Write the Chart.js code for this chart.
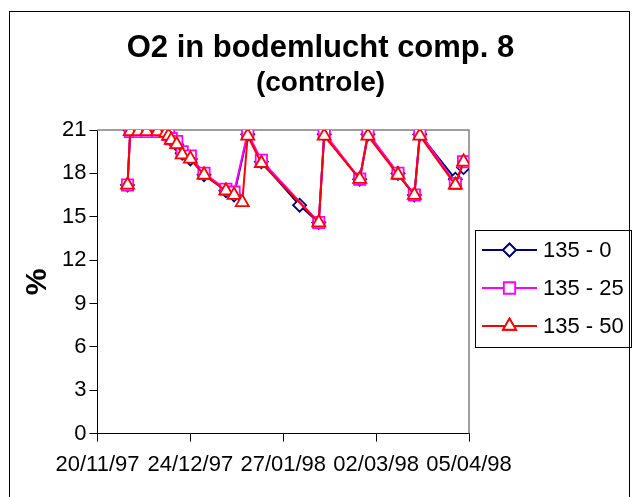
<!DOCTYPE html>
<html>
<head>
<meta charset="utf-8">
<script src="https://cdn.jsdelivr.net/npm/chart.js@4.4.0/dist/chart.umd.min.js"></script>
<style>
  html, body { margin: 0; padding: 0; background: #fff; }
  #wrap { position: relative; width: 637px; height: 497px; overflow: hidden; }
  #frame { position: absolute; left: 9px; top: 11px; width: 619px; height: 500px; border: 1px solid #000; }
  canvas { position: absolute; left: 0; top: 0; }
</style>
</head>
<body>
<div id="wrap">
  <div id="frame"></div>
  <canvas id="chart" width="637" height="497"></canvas>
</div>
<script>
// measurement dates (dd/mm/yy)
const dates = [
  '01/12/97', '02/12/97', '05/12/97', '08/12/97', '12/12/97', '15/12/97',
  '16/12/97', '17/12/97', '19/12/97', '21/12/97', '24/12/97', '29/12/97',
  '06/01/98', '09/01/98', '12/01/98', '14/01/98', '19/01/98', '02/02/98',
  '09/02/98', '11/02/98', '24/02/98', '27/02/98', '10/03/98', '16/03/98',
  '18/03/98', '31/03/98', '03/04/98'
];

// O2 (%) per depth, null = not measured
const o2_0 = [
  17.2, 21.0, 21.0, 21.0, 21.0, 20.9,
  20.6, 20.3, 20.0, 19.4, 19.0, 17.9,
  16.8, 16.5, null, 20.7, 18.8, 15.8,
  14.6, 20.7, 17.6, 20.7, 18.0, 16.5,
  20.7, 17.6, 18.4
];
const o2_25 = [
  17.2, 20.9, 20.9, 20.9, 20.9, 20.9,
  20.7, 20.4, 20.2, 19.5, 19.2, 18.0,
  16.9, 16.7, null, 20.8, 18.9, null,
  14.6, 20.8, 17.6, 20.8, 18.0, 16.5,
  20.8, 17.3, 18.8
];
const o2_50 = [
  17.2, 20.9, 20.9, 20.9, 20.9, 20.8,
  20.6, 20.3, 20.0, 19.3, 19.0, 17.9,
  16.8, 16.5, 16.0, 20.6, 18.7, null,
  14.6, 20.6, 17.6, 20.6, 17.9, 16.5,
  20.6, 17.2, 18.8
];

const seriesNames = ['135 - 0', '135 - 25', '135 - 50'];
const xTickLabels = ['20/11/97', '24/12/97', '27/01/98', '02/03/98', '05/04/98'];
const yTicks = [0, 3, 6, 9, 12, 15, 18, 21];

const FONT = "'Liberation Sans', Arial, sans-serif";

// days since first x tick
function dayOf(s) {
  const [d, m, y] = s.split('/').map(Number);
  const [d0, m0, y0] = xTickLabels[0].split('/').map(Number);
  return (Date.UTC(1900 + y, m - 1, d) - Date.UTC(1900 + y0, m0 - 1, d0)) / 86400000;
}
const xDays = dates.map(dayOf);
const toPoints = vals => vals.map((v, i) => ({ x: xDays[i], y: v }));

const styles = [
  { color: '#000080', point: 'rectRot', radius: 6.5 },
  { color: '#FF00FF', point: 'rect', radius: 8 },
  { color: '#FF0000', point: 'triangle', radius: 7.5 }
];

function drawMarker(ctx, st, x, y) {
  ctx.save();
  ctx.fillStyle = '#fff';
  ctx.strokeStyle = st.color;
  ctx.lineWidth = 1.8;
  Chart.helpers.drawPoint(ctx, { pointStyle: st.point, radius: st.radius, rotation: 0, borderWidth: 1.8 }, x, y);
  ctx.fill();
  ctx.stroke();
  ctx.restore();
}

const excelDecor = {
  id: 'excelDecor',
  beforeDatasetsDraw(chart) {
    const { ctx, chartArea: a } = chart;
    ctx.save();
    ctx.strokeStyle = '#808080';
    ctx.lineWidth = 1.5;
    ctx.beginPath();
    ctx.moveTo(a.left, a.top);
    ctx.lineTo(a.right, a.top);
    ctx.lineTo(a.right, a.bottom);
    ctx.stroke();
    ctx.restore();
  },
  afterDraw(chart) {
    const { ctx, chartArea: a } = chart;
    const cx = chart.width / 2 + 2;
    ctx.save();
    ctx.fillStyle = '#000';
    ctx.textAlign = 'center';
    ctx.textBaseline = 'middle';
    ctx.font = 'bold 31px ' + FONT;
    ctx.fillText('O2 in bodemlucht comp. 8', cx, 48);
    ctx.font = 'bold 28px ' + FONT;
    ctx.fillText('(controle)', cx, 83);

    // legend
    const lx = a.right + 6, ly = 230, lw = 156, lh = 117;
    ctx.strokeStyle = '#000';
    ctx.lineWidth = 1;
    ctx.strokeRect(lx + 0.5, ly + 0.5, lw, lh);
    ctx.textAlign = 'left';
    ctx.font = '22px ' + FONT;
    seriesNames.forEach((name, i) => {
      const st = styles[i];
      const y = ly + 20 + i * 38;
      ctx.strokeStyle = st.color;
      ctx.lineWidth = 2;
      ctx.beginPath();
      ctx.moveTo(lx + 7, y);
      ctx.lineTo(lx + 62, y);
      ctx.stroke();
      drawMarker(ctx, st, lx + 34.5, y);
      ctx.fillStyle = '#000';
      ctx.fillText(name, lx + 68, y + 1);
    });
    ctx.restore();
  }
};

const seriesData = [o2_0, o2_25, o2_50];

new Chart(document.getElementById('chart'), {
  type: 'line',
  data: {
    datasets: seriesData.map((vals, i) => ({
      label: seriesNames[i],
      data: toPoints(vals),
      borderColor: styles[i].color,
      backgroundColor: '#fff',
      borderWidth: 2,
      pointStyle: styles[i].point,
      pointRadius: styles[i].radius,
      pointBorderWidth: 1.8,
      pointBorderColor: styles[i].color,
      pointBackgroundColor: '#fff',
      tension: 0,
      spanGaps: true,
      order: 3 - i
    }))
  },
  options: {
    responsive: false,
    animation: false,
    events: [],
    layout: { padding: { left: 20, right: 168, top: 130, bottom: 9 } },
    plugins: {
      legend: { display: false },
      title: { display: false },
      tooltip: { enabled: false }
    },
    scales: {
      x: {
        type: 'linear',
        min: dayOf(xTickLabels[0]),
        max: dayOf(xTickLabels[xTickLabels.length - 1]),
        afterBuildTicks: axis => {
          axis.ticks = xTickLabels.map(l => ({ value: dayOf(l) }));
        },
        ticks: {
          autoSkip: false,
          maxRotation: 0,
          padding: 10,
          color: '#000',
          font: { family: FONT, size: 22 },
          callback: (v, i) => xTickLabels[i]
        },
        grid: { display: true, drawOnChartArea: false, drawTicks: true, tickLength: 8, color: '#000' },
        border: { display: true, color: '#000', width: 1 }
      },
      y: {
        min: yTicks[0],
        max: yTicks[yTicks.length - 1],
        afterBuildTicks: axis => {
          axis.ticks = yTicks.map(v => ({ value: v }));
        },
        ticks: {
          padding: 3,
          color: '#000',
          font: { family: FONT, size: 22 }
        },
        grid: { display: true, drawOnChartArea: false, drawTicks: true, tickLength: 8, color: '#000' },
        border: { display: true, color: '#000', width: 1 },
        title: {
          display: true,
          text: '%',
          color: '#000',
          font: { family: FONT, size: 30, weight: 'bold' },
          padding: { top: 0, bottom: 3 }
        }
      }
    }
  },
  plugins: [excelDecor]
});
</script>
</body>
</html>
